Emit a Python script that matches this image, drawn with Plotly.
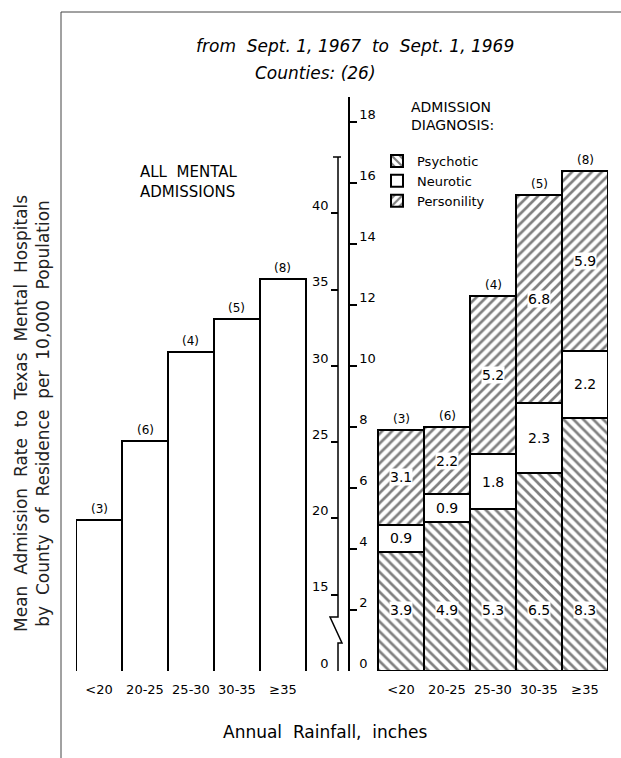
import plotly.graph_objects as go

# ---------------- data ----------------
categories = ["<20", "20-25", "25-30", "30-35", "≥35"]
county_counts = ["(3)", "(6)", "(4)", "(5)", "(8)"]
all_admissions = [19.9, 25.1, 30.9, 33.1, 35.7]
psychotic = [3.9, 4.9, 5.3, 6.5, 8.3]
neurotic = [0.9, 0.9, 1.8, 2.3, 2.2]
personality = [3.1, 2.2, 5.2, 6.8, 5.9]

left_tick_vals = [10, 15, 20, 25, 30, 35, 40]
left_tick_text = ["0", "15", "20", "25", "30", "35", "40"]
right_tick_vals = [0, 2, 4, 6, 8, 10, 12, 14, 16, 18]

W, H = 621, 758
FONT = "DejaVu Sans"


def px_x(p):
    return p / W


def px_y(p):
    return 1 - p / H


fig = go.Figure()

# left panel: all mental admissions
fig.add_trace(go.Bar(
    x=categories, y=all_admissions, xaxis="x", yaxis="y",
    marker=dict(color="white", line=dict(color="black", width=2)),
    showlegend=False, hoverinfo="skip",
))

# right panel: stacked by diagnosis
pat = dict(fgcolor="black", bgcolor="white", size=7, solidity=0.38)
fig.add_trace(go.Bar(
    x=categories, y=psychotic, xaxis="x2", yaxis="y2", name="Psychotic",
    marker=dict(color="white", line=dict(color="black", width=2),
                pattern=dict(shape="\\", **pat)),
    legendgroup="a",
))
fig.add_trace(go.Bar(
    x=categories, y=neurotic, xaxis="x2", yaxis="y2", name="Neurotic",
    marker=dict(color="white", line=dict(color="black", width=2)),
    legendgroup="b",
))
fig.add_trace(go.Bar(
    x=categories, y=personality, xaxis="x2", yaxis="y2", name="Personility",
    marker=dict(color="white", line=dict(color="black", width=2),
                pattern=dict(shape="/", **pat)),
    legendgroup="c",
))

annotations = []
# counts above left bars
for c, v, n in zip(categories, all_admissions, county_counts):
    annotations.append(dict(x=c, y=v, xref="x", yref="y", text=n, showarrow=False,
                            yshift=11, font=dict(family=FONT, size=12, color="black")))
# counts above right stacks and value labels
for c, p, ne, pe, n in zip(categories, psychotic, neurotic, personality, county_counts):
    tot = p + ne + pe
    annotations.append(dict(x=c, y=tot, xref="x2", yref="y2", text=n, showarrow=False,
                            yshift=11, font=dict(family=FONT, size=12, color="black")))
    annotations.append(dict(x=c, y=2, xref="x2", yref="y2", text=f"{p}", showarrow=False,
                            bgcolor="white", borderpad=0,
                            font=dict(family=FONT, size=14, color="black")))
    annotations.append(dict(x=c, y=p + ne / 2, xref="x2", yref="y2", text=f"{ne}",
                            showarrow=False, bgcolor="white", borderpad=0,
                            font=dict(family=FONT, size=14, color="black")))
    annotations.append(dict(x=c, y=p + ne + pe / 2, xref="x2", yref="y2", text=f"{pe}",
                            showarrow=False, bgcolor="white", borderpad=0,
                            font=dict(family=FONT, size=14, color="black")))


def note(x, y, text, size, xanchor="center", align="center", angle=0, color="black"):
    return dict(x=px_x(x), y=px_y(y), xref="paper", yref="paper", showarrow=False,
                xanchor=xanchor, yanchor="middle", align=align, textangle=angle,
                text=text, font=dict(family=FONT, size=size, color=color))


annotations += [
    note(355, 46, "<i>from  Sept. 1, 1967  to  Sept. 1, 1969</i>", 17),
    note(315, 73, "<i>Counties: (26)</i>", 17),
    note(138, 182, "ALL  MENTAL<br>ADMISSIONS", 15, xanchor="left", align="left"),
    note(409, 116, "ADMISSION<br>DIAGNOSIS:", 14, xanchor="left", align="left"),
    note(32, 414,
         "Mean  Admission  Rate  to  Texas  Mental  Hospitals<br>by  County  of  Residence  per  10,000  Population",
         17, angle=-90, color="#222"),
    note(325, 732, "Annual  Rainfall,  inches", 17),
]

# left axis line with scale break, and page frame
ax = 338
shapes = [
    dict(type="path", xref="paper", yref="paper", layer="above",
         path=(f"M {px_x(ax)},{px_y(157)} L {px_x(ax)},{px_y(617)} L {px_x(330)},{px_y(617)} "
               f"L {px_x(342)},{px_y(643)} L {px_x(ax)},{px_y(643)} L {px_x(ax)},{px_y(671)}"),
         line=dict(color="black", width=1.5)),
    dict(type="line", xref="paper", yref="paper", x0=px_x(333), x1=px_x(341),
         y0=px_y(157), y1=px_y(157), line=dict(color="black", width=1.5)),
    dict(type="line", xref="paper", yref="paper", x0=px_x(61), x1=1,
         y0=px_y(12), y1=px_y(12), line=dict(color="#444", width=1)),
    dict(type="line", xref="paper", yref="paper", x0=px_x(61), x1=px_x(61),
         y0=px_y(12), y1=0, line=dict(color="#444", width=1)),
]

tickfont = dict(family=FONT, size=13, color="black")
fig.update_layout(
    width=W, height=H,
    margin=dict(l=0, r=0, t=0, b=0),
    paper_bgcolor="white", plot_bgcolor="rgba(0,0,0,0)",
    barmode="stack", bargap=0,
    showlegend=True,
    legend=dict(x=px_x(377), y=px_y(146), xanchor="left", yanchor="top",
                traceorder="normal", tracegroupgap=17,
                bgcolor="rgba(0,0,0,0)",
                font=dict(family=FONT, size=13, color="black")),
    xaxis=dict(domain=[px_x(76), px_x(338)], range=[-0.5, 5.196], anchor="y",
               showline=False, showgrid=False, zeroline=False, ticks="",
               ticklabelstandoff=9, tickfont=tickfont),
    yaxis=dict(domain=[px_y(671), px_y(157)], range=[10, 43.7], anchor="x", side="right",
               showline=False, showgrid=False, zeroline=False,
               tickvals=left_tick_vals, ticktext=left_tick_text,
               ticks="inside", ticklen=7, tickwidth=1.5, tickcolor="black",
               ticklabelposition="inside", ticklabelshift=-8, ticklabelstandoff=2,
               tickfont=tickfont),
    xaxis2=dict(domain=[px_x(350), px_x(608)], range=[-1.109, 4.5], anchor="y2",
                showline=False, showgrid=False, zeroline=False, ticks="",
                ticklabelstandoff=9, tickfont=tickfont),
    yaxis2=dict(domain=[px_y(671), px_y(97)], range=[0, 18.82], anchor="x2", side="left",
                showline=True, linecolor="black", linewidth=1.5,
                showgrid=False, zeroline=False,
                tickvals=right_tick_vals,
                ticks="inside", ticklen=7, tickwidth=1.5, tickcolor="black",
                ticklabelposition="inside", ticklabelshift=-8, ticklabelstandoff=2,
                tickfont=tickfont),
    annotations=annotations,
    shapes=shapes,
)

fig.write_html("out.html", config={"displayModeBar": False},
               post_script="document.body.style.margin='0px';")
